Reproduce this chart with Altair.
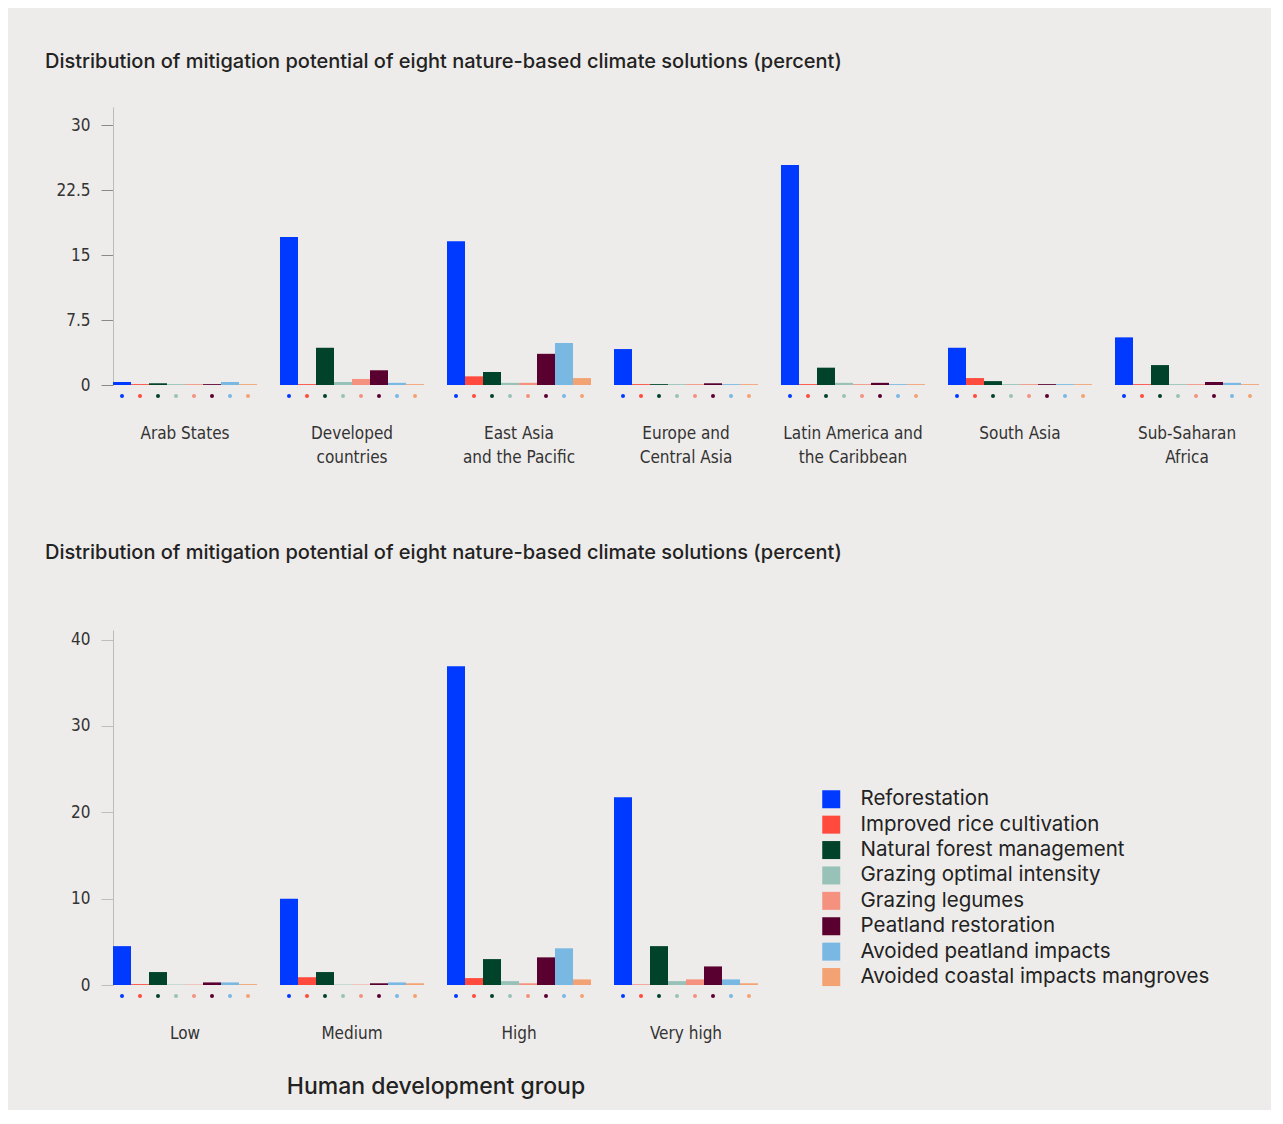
import altair as alt
import pandas as pd

solutions = [
    "Reforestation",
    "Improved rice cultivation",
    "Natural forest management",
    "Grazing optimal intensity",
    "Grazing legumes",
    "Peatland restoration",
    "Avoided peatland impacts",
    "Avoided coastal impacts mangroves",
]
colors = ["#0039FF", "#FF4A3D", "#00432A", "#98C2B8", "#F4927F", "#5A0030", "#7AB8E4", "#F3A273"]

# Top chart: regions ("|" marks a line break in the axis label)
regions = [
    "Arab States",
    "Developed|countries",
    "East Asia|and the Pacific",
    "Europe and|Central Asia",
    "Latin America and|the Caribbean",
    "South Asia",
    "Sub-Saharan|Africa",
]
reg_reforestation = [0.35, 17.1, 16.6, 4.15, 25.4, 4.3, 5.5]
reg_rice = [0.1, 0.1, 1.0, 0.1, 0.1, 0.8, 0.1]
reg_forest_mgmt = [0.2, 4.3, 1.5, 0.1, 2.0, 0.45, 2.3]
reg_grazing_opt = [0.1, 0.35, 0.25, 0.1, 0.25, 0.1, 0.1]
reg_grazing_leg = [0.1, 0.7, 0.25, 0.1, 0.1, 0.1, 0.1]
reg_peat_rest = [0.1, 1.7, 3.6, 0.2, 0.25, 0.1, 0.35]
reg_peat_avoid = [0.35, 0.25, 4.85, 0.1, 0.1, 0.1, 0.25]
reg_mangroves = [0.1, 0.1, 0.8, 0.1, 0.1, 0.1, 0.1]

# Bottom chart: human development groups
hdi_groups = ["Low", "Medium", "High", "Very high"]
hdi_reforestation = [4.5, 10.0, 36.9, 21.75]
hdi_rice = [0.1, 0.9, 0.8, 0.05]
hdi_forest_mgmt = [1.5, 1.5, 3.0, 4.5]
hdi_grazing_opt = [0.05, 0.05, 0.45, 0.45]
hdi_grazing_leg = [0.05, 0.05, 0.2, 0.65]
hdi_peat_rest = [0.3, 0.2, 3.2, 2.15]
hdi_peat_avoid = [0.3, 0.3, 4.25, 0.65]
hdi_mangroves = [0.1, 0.2, 0.65, 0.2]

top_title = "Distribution of mitigation potential of eight nature-based climate solutions (percent)"
bottom_title = "Distribution of mitigation potential of eight nature-based climate solutions (percent)"
x_title_bottom = "Human development group"
top_ticks = [0, 7.5, 15, 22.5, 30]
bottom_ticks = [0, 10, 20, 30, 40]


def long_table(cats, series):
    rows = []
    for sol, vals in zip(solutions, series):
        for c, v in zip(cats, vals):
            rows.append({"cat": c, "solution": sol, "value": v})
    return pd.DataFrame(rows)


df_top = long_table(regions, [reg_reforestation, reg_rice, reg_forest_mgmt, reg_grazing_opt,
                              reg_grazing_leg, reg_peat_rest, reg_peat_avoid, reg_mangroves])
df_bot = long_table(hdi_groups, [hdi_reforestation, hdi_rice, hdi_forest_mgmt, hdi_grazing_opt,
                                 hdi_grazing_leg, hdi_peat_rest, hdi_peat_avoid, hdi_mangroves])

TITLE_FONT = "Inter"
COND_FONT = "Liberation Sans Narrow, DejaVu Sans Condensed, sans-serif"
STEP = 167
GAP = 23


def make_panel(df, cats, ymax, ticks, height, title_text, title_offset, x_title, legend,
               tick_color):
    width = STEP * len(cats) - GAP
    xenc = alt.X(
        "cat:N", sort=cats,
        scale=alt.Scale(paddingInner=GAP / STEP, paddingOuter=0),
        axis=alt.Axis(
            domain=False, ticks=False, labelPadding=40,
            labelExpr="split(datum.value, '|')", labelLineHeight=24,
            labelFont=COND_FONT, labelFontSize=17, labelColor="#333", labelAngle=0,
            title=x_title, titleFont=TITLE_FONT, titleFontSize=23, titleFontWeight=500,
            titleColor="#222", titlePadding=34,
        ),
    )
    xoff = alt.XOffset("solution:N", sort=solutions, scale=alt.Scale(paddingInner=0, paddingOuter=0))
    color = alt.Color("solution:N", sort=solutions,
                      scale=alt.Scale(domain=solutions, range=colors), legend=legend)
    base = alt.Chart(df)
    bars = base.mark_bar().encode(
        x=xenc, xOffset=xoff,
        y=alt.Y("value:Q", scale=alt.Scale(domain=[0, ymax], nice=False, zero=True),
                axis=alt.Axis(values=ticks, format=".1~f", grid=False, title=None,
                              domainColor="#bbb", tickColor=tick_color, tickSize=12,
                              labelPadding=11, labelFont=COND_FONT, labelFontSize=17,
                              labelColor="#333")),
        color=color,
    )
    dots = base.mark_circle(size=16, opacity=1).encode(
        x=xenc, xOffset=xoff, y=alt.value(height + 11), color=color,
    )
    return (bars + dots).properties(
        width=width, height=height,
        title=alt.TitleParams(title_text, anchor="start", frame="group", font=TITLE_FONT,
                              fontSize=20, fontWeight=500, color="#222", dx=-68,
                              offset=title_offset),
    )


top = make_panel(df_top, regions, 32.1, top_ticks, 278, top_title, 35, None, None, "#8a8a8a")

legend = alt.Legend(
    title=None, orient="none", legendX=708, legendY=159, symbolType="square",
    symbolSize=324, symbolStrokeWidth=0, labelFont=TITLE_FONT, labelFontSize=20.5,
    labelColor="#222", labelOffset=19, rowPadding=4.4, padding=0, symbolOpacity=1,
    labelLimit=500,
)
bottom = make_panel(df_bot, hdi_groups, 41.1, bottom_ticks, 355, bottom_title, 67,
                    x_title_bottom, legend, "#bdbdbd")

chart = alt.vconcat(top, bottom, spacing=78).resolve_scale(color="independent").resolve_legend(
    color="independent"
).properties(
    padding={"left": 37, "top": 44, "right": 12, "bottom": 12},
).configure(background="#EEECEA").configure_view(stroke=None)

chart.save("out.html", embed_options={"renderer": "svg", "actions": False})
